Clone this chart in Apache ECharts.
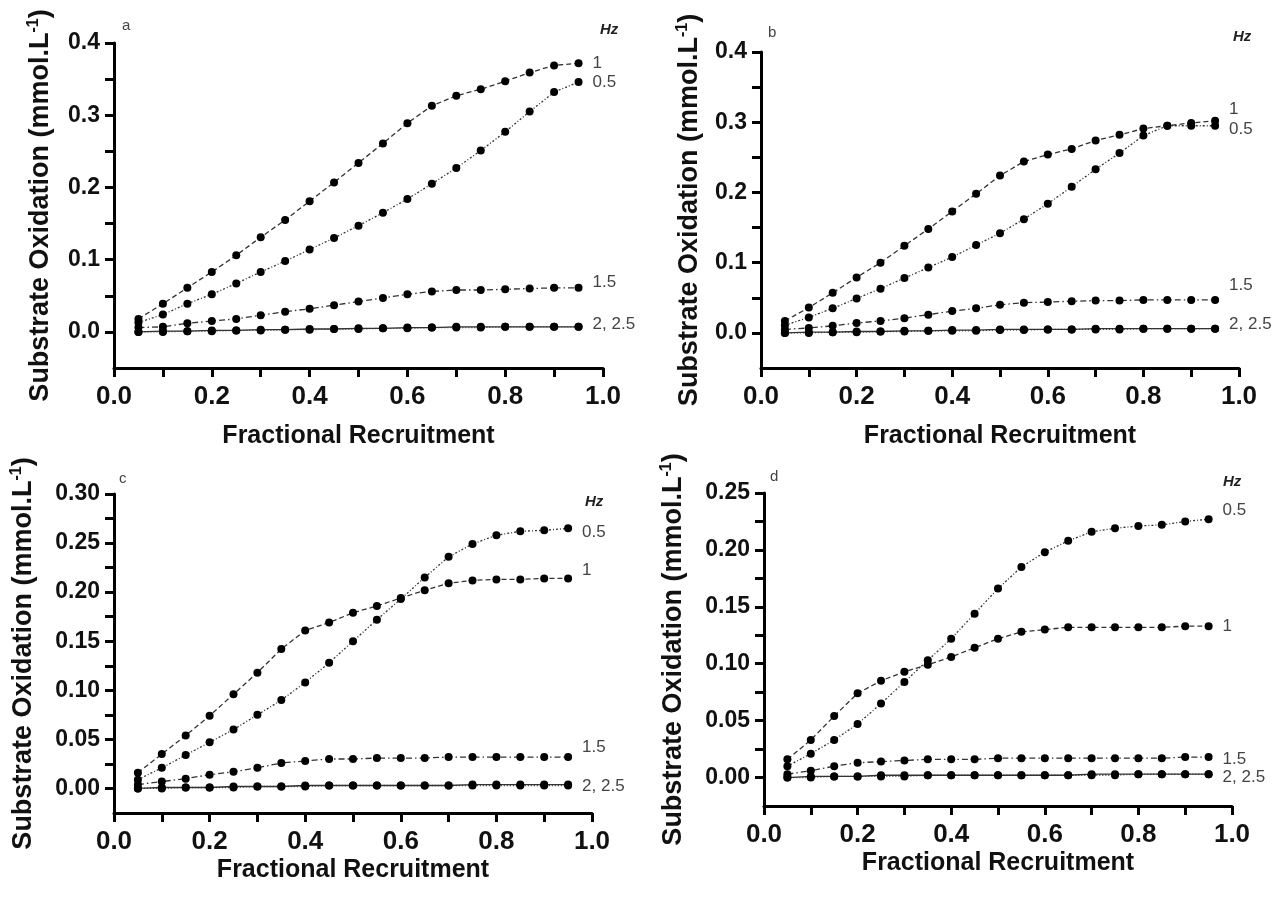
<!DOCTYPE html>
<html>
<head>
<meta charset="utf-8">
<script src="https://cdn.jsdelivr.net/npm/echarts@6/dist/echarts.min.js"></script>
<style>
html,body{margin:0;padding:0;background:#fff;}
#chart{width:1284px;height:897px;}
</style>
</head>
<body>
<div id="chart"></div>
<script>
// ---------- data ----------
const xValues = [0.05,0.10,0.15,0.20,0.25,0.30,0.35,0.40,0.45,0.50,0.55,0.60,0.65,0.70,0.75,0.80,0.85,0.90,0.95];
const seriesNames = ['0.5','1','1.5','2','2.5'];

// panel a
const a_hz05 = [0.013,0.024,0.039,0.052,0.067,0.083,0.098,0.114,0.130,0.147,0.165,0.184,0.205,0.227,0.251,0.277,0.305,0.332,0.346];
const a_hz1  = [0.018,0.039,0.061,0.083,0.106,0.131,0.155,0.181,0.207,0.234,0.261,0.289,0.313,0.327,0.336,0.347,0.359,0.369,0.372];
const a_hz15 = [0.006,0.007,0.012,0.015,0.018,0.023,0.028,0.032,0.037,0.042,0.047,0.052,0.056,0.058,0.058,0.059,0.060,0.061,0.061];
const a_hz2  = [0.000,0.001,0.001,0.002,0.002,0.003,0.003,0.004,0.004,0.005,0.005,0.006,0.006,0.007,0.007,0.007,0.007,0.007,0.007];
const a_hz25 = [0.000,0.000,0.001,0.001,0.002,0.002,0.003,0.003,0.004,0.004,0.005,0.005,0.006,0.006,0.006,0.007,0.007,0.007,0.007];

// panel b
const b_hz05 = [0.011,0.022,0.035,0.049,0.063,0.078,0.093,0.108,0.125,0.142,0.162,0.184,0.208,0.233,0.256,0.281,0.295,0.295,0.295];
const b_hz1  = [0.017,0.036,0.057,0.079,0.100,0.124,0.148,0.173,0.198,0.224,0.244,0.254,0.262,0.274,0.282,0.291,0.295,0.299,0.302];
const b_hz15 = [0.005,0.007,0.010,0.014,0.017,0.021,0.026,0.031,0.035,0.040,0.043,0.044,0.045,0.046,0.046,0.047,0.047,0.047,0.047];
const b_hz2  = [0.000,0.001,0.001,0.002,0.002,0.003,0.003,0.004,0.004,0.005,0.005,0.005,0.005,0.006,0.006,0.006,0.006,0.006,0.006];
const b_hz25 = [0.000,0.000,0.001,0.001,0.002,0.002,0.003,0.003,0.003,0.004,0.004,0.005,0.005,0.005,0.005,0.006,0.006,0.006,0.006];

// panel c
const c_hz05 = [0.009,0.021,0.034,0.047,0.060,0.075,0.090,0.108,0.128,0.150,0.172,0.193,0.215,0.236,0.249,0.258,0.262,0.263,0.265];
const c_hz1  = [0.016,0.035,0.054,0.074,0.096,0.118,0.142,0.161,0.169,0.179,0.186,0.194,0.202,0.209,0.212,0.213,0.213,0.214,0.214];
const c_hz15 = [0.004,0.007,0.010,0.014,0.017,0.021,0.026,0.028,0.030,0.030,0.031,0.031,0.031,0.032,0.032,0.032,0.032,0.032,0.032];
const c_hz2  = [0.000,0.001,0.001,0.001,0.002,0.002,0.002,0.003,0.003,0.003,0.003,0.003,0.003,0.003,0.004,0.004,0.004,0.004,0.004];
const c_hz25 = [0.000,0.000,0.001,0.001,0.001,0.002,0.002,0.002,0.003,0.003,0.003,0.003,0.003,0.003,0.003,0.003,0.003,0.003,0.003];

// panel d
const d_hz05 = [0.010,0.021,0.033,0.047,0.065,0.084,0.103,0.122,0.144,0.166,0.185,0.198,0.208,0.216,0.219,0.221,0.222,0.225,0.227];
const d_hz1  = [0.016,0.033,0.054,0.074,0.085,0.093,0.099,0.106,0.114,0.122,0.128,0.130,0.132,0.132,0.132,0.132,0.132,0.133,0.133];
const d_hz15 = [0.003,0.006,0.010,0.013,0.014,0.015,0.016,0.016,0.016,0.017,0.017,0.017,0.017,0.017,0.017,0.017,0.017,0.018,0.018];
const d_hz2  = [0.000,0.001,0.001,0.001,0.002,0.002,0.002,0.002,0.002,0.002,0.002,0.002,0.002,0.003,0.003,0.003,0.003,0.003,0.003];
const d_hz25 = [0.000,0.000,0.001,0.001,0.001,0.001,0.002,0.002,0.002,0.002,0.002,0.002,0.002,0.002,0.002,0.003,0.003,0.003,0.003];

// tick values / labels
const xTickValues  = [0,0.1,0.2,0.3,0.4,0.5,0.6,0.7,0.8,0.9,1.0];
const xLabelValues = [0,0.2,0.4,0.6,0.8,1.0];
const abTickValues  = [0,0.05,0.1,0.15,0.2,0.25,0.3,0.35,0.4];
const abLabelValues = [0,0.1,0.2,0.3,0.4];
const cTickValues  = [0,0.025,0.05,0.075,0.1,0.125,0.15,0.175,0.2,0.225,0.25,0.275,0.3];
const cLabelValues = [0,0.05,0.1,0.15,0.2,0.25,0.3];
const dTickValues  = [0,0.025,0.05,0.075,0.1,0.125,0.15,0.175,0.2,0.225,0.25];
const dLabelValues = [0,0.05,0.1,0.15,0.2,0.25];
const panelLetters = ['a','b','c','d'];

// ---------- layout ----------
const FONT = '"Liberation Sans", Arial, sans-serif';

const panels = [
  {data:[a_hz05,a_hz1,a_hz15,a_hz2,a_hz25], grid:{left:114,top:43,width:489,height:325}, yMin:-0.05, yMax:0.4, ticks:abTickValues, labels:abLabelValues, dec:1, nameGap:59, xGap:56,
   lab:{'0.5':[0,0], '1':[0,0], '1.5':[0,-6], '2':[0,-3]}, hz:[600,22], letter:[122,18]},
  {data:[b_hz05,b_hz1,b_hz15,b_hz2,b_hz25], grid:{left:761,top:52,width:478,height:316}, yMin:-0.05, yMax:0.4, ticks:abTickValues, labels:abLabelValues, dec:1, nameGap:57, xGap:56,
   lab:{'0.5':[0,4], '1':[0,-12], '1.5':[0,-15], '2':[0,-4]}, hz:[1233,29], letter:[768,25]},
  {data:[c_hz05,c_hz1,c_hz15,c_hz2,c_hz25], grid:{left:114,top:494,width:478,height:319}, yMin:-0.025, yMax:0.3, ticks:cTickValues, labels:cLabelValues, dec:2, nameGap:76, xGap:45,
   lab:{'0.5':[0,4], '1':[0,-8], '1.5':[0,-10], '2':[0,2]}, hz:[585,494], letter:[119,471]},
  {data:[d_hz05,d_hz1,d_hz15,d_hz2,d_hz25], grid:{left:764,top:493,width:468,height:313}, yMin:-0.025, yMax:0.25, ticks:dTickValues, labels:dLabelValues, dec:2, nameGap:76, xGap:45,
   lab:{'0.5':[0,-9], '1':[0,0], '1.5':[0,2], '2':[0,3]}, hz:[1223,474], letter:[770,469]}
];

const lineTypes = {
  '0.5': [2,2,1,2],
  '1':   [5,3],
  '1.5': [6,3,1.5,3],
  '2':   'solid',
  '2.5': [1,2]
};

const grids = [], xAxes = [], yAxes = [], series = [], graphics = [];

panels.forEach((p, i) => {
  grids.push(Object.assign({containLabel:false}, p.grid));
  xAxes.push({
    type:'value', gridIndex:i, min:0, max:1,
    name:'Fractional Recruitment', nameLocation:'middle', nameGap:p.xGap,
    nameTextStyle:{fontFamily:FONT, fontWeight:'bold', fontSize:25, color:'#111'},
    axisLine:{show:true, onZero:false, lineStyle:{color:'#000', width:3}},
    axisTick:{show:true, customValues:xTickValues, length:9, lineStyle:{color:'#000', width:3}},
    axisLabel:{customValues:xLabelValues, margin:16, fontFamily:FONT, fontWeight:'bold', fontSize:26, color:'#111',
               formatter:v => v.toFixed(1)},
    splitLine:{show:false}
  });
  yAxes.push({
    type:'value', gridIndex:i, min:p.yMin, max:p.yMax,
    name:'{t|Substrate Oxidation (mmol.L}{s|-1}{t|)}', nameLocation:'middle', nameGap:p.nameGap, nameRotate:90,
    nameTextStyle:{rich:{
      t:{fontFamily:FONT, fontWeight:'bold', fontSize:27, color:'#111'},
      s:{fontFamily:FONT, fontWeight:'bold', fontSize:16, color:'#111', verticalAlign:'top', padding:[0,0,13,0]}
    }},
    axisLine:{show:true, onZero:false, lineStyle:{color:'#000', width:3}},
    axisTick:{show:true, customValues:p.ticks, length:9, lineStyle:{color:'#000', width:3}},
    axisLabel:{customValues:p.labels, margin:14, fontFamily:FONT, fontWeight:'bold', fontSize:23, color:'#111',
               formatter:v => v.toFixed(p.dec)},
    splitLine:{show:false}
  });
  seriesNames.forEach((nm, k) => {
    const off = p.lab[nm];
    series.push({
      type:'line', name:nm, xAxisIndex:i, yAxisIndex:i,
      data: xValues.map((x, j) => [x, p.data[k][j]]),
      symbol:'circle', symbolSize:8, showSymbol:true,
      itemStyle:{color:'#000'},
      lineStyle:{color:'#333', width:1.3, type:lineTypes[nm]},
      z: 10 - k,
      silent:true, animation:false,
      endLabel:{
        show: nm !== '2.5',
        formatter: nm === '2' ? '2, 2.5' : nm,
        distance: 14,
        offset: off || [0,0],
        fontFamily: FONT, fontSize:17, color:'#444'
      }
    });
  });
  graphics.push({type:'text', left:p.hz[0], top:p.hz[1],
    style:{text:'Hz', font:'italic bold 15px ' + FONT, fill:'#222'}});
  graphics.push({type:'text', left:p.letter[0], top:p.letter[1],
    style:{text:panelLetters[i], font:'15px ' + FONT, fill:'#444'}});
});

const chart = echarts.init(document.getElementById('chart'), null, {renderer:'canvas'});
chart.setOption({
  backgroundColor:'#fff',
  animation:false,
  grid:grids, xAxis:xAxes, yAxis:yAxes, series:series,
  graphic:graphics
});
</script>
</body>
</html>
